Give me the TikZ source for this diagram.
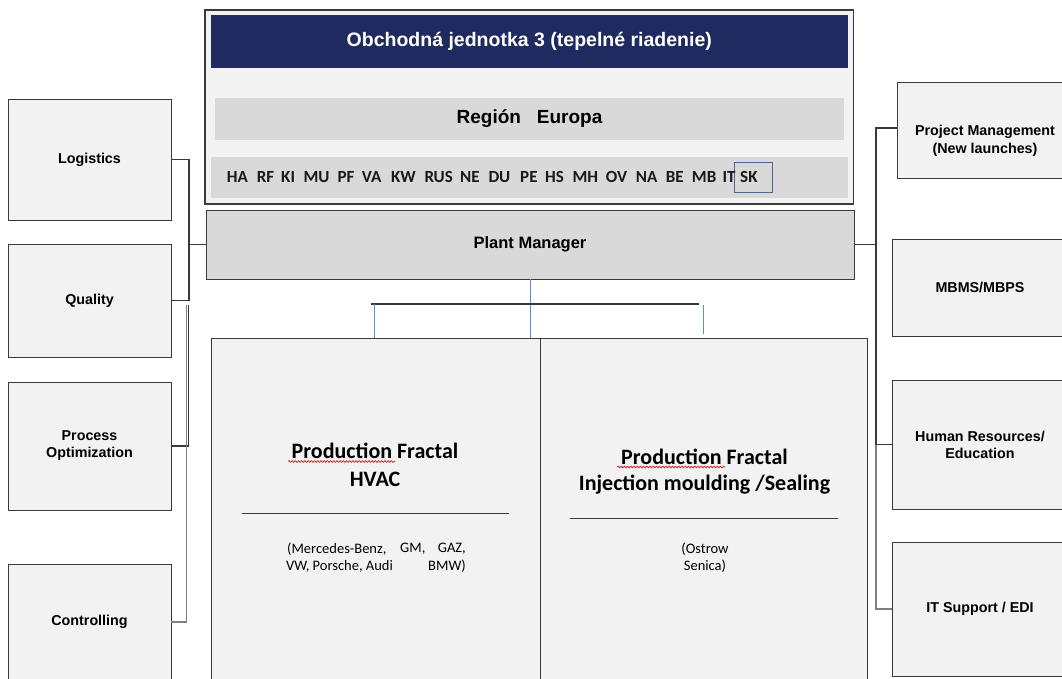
\documentclass[tikz,border=0pt]{standalone}
\usepackage{fontspec}
\setmainfont{Liberation Sans}
\newfontfamily\calib{Carlito}
\usetikzlibrary{decorations.pathmorphing}
\definecolor{boxfill}{HTML}{F2F2F2}
\definecolor{barfill}{HTML}{D9D9D9}
\definecolor{edge}{HTML}{3A3A3A}
\definecolor{navy}{RGB}{31,42,96}
\definecolor{blueln}{RGB}{91,143,209}
\definecolor{skedge}{RGB}{74,104,140}
\definecolor{grayln}{HTML}{7F7F7F}
\tikzset{
  rbox/.style={draw=edge, line width=1pt, inner sep=0pt, outer sep=0pt},
  sidebox/.style={rbox, fill=boxfill, align=center, font=\bfseries\fontsize{14.3}{17}\selectfont},
  conn/.style={draw=edge, line width=1.1pt},
  gconn/.style={draw=grayln, line width=1.1pt},
  bconn/.style={draw=blueln, line width=1pt},
  codetxt/.style={anchor=west, inner sep=0pt, font=\calib\bfseries\fontsize{17}{17}\selectfont, text=black!90},
  titletxt/.style={inner sep=0pt, font=\calib\bfseries\fontsize{22}{26}\selectfont},
  smalltxt/.style={inner sep=0pt, font=\calib\fontsize{14.5}{17}\selectfont},
  wavy/.style={draw=red!85!black, line width=0.6pt, decorate, decoration={snake, amplitude=0.9pt, segment length=3.2pt}},
  uline/.style={draw=edge, line width=0.8pt}
}
\begin{document}
\begin{tikzpicture}[x=1pt,y=-1pt]
\useasboundingbox (0,0) rectangle (1062,678);
\clip (0,0) rectangle (1062,678);
\fill[white] (0,0) rectangle (1062,678);

% top block
\node[rbox, line width=1.3pt, fill=boxfill, minimum width=648.5, minimum height=194] (outer) at (529.25,107) {};
\node[inner sep=0pt, fill=navy, minimum width=637.4, minimum height=53, text=white, font=\bfseries\fontsize{19.5}{22}\selectfont] (hdr) at (529.3,41.5) {Obchodná jednotka 3 (tepelné riadenie)};
\node[inner sep=0pt, fill=barfill, minimum width=629, minimum height=42, font=\bfseries\fontsize{19}{22}\selectfont] (region) at (529.5,119) {Región~~~Europa};
\node[inner sep=0pt, fill=barfill, minimum width=637.4, minimum height=41] (codes) at (529.3,177.5) {};
\node[draw=skedge, line width=1.1pt, inner sep=0pt, minimum width=38, minimum height=30] (skbox) at (753.3,177.5) {};
\foreach \c/\x in {HA/226.7, RF/256.7, KI/281, MU/303.3, PF/337.3, VA/361.7, KW/391, RUS/424.3, NE/460, DU/488.3, PE/520, HS/545, MH/572.3, OV/605.7, NA/635.7, BE/665.7, MB/691.7, IT/722.3, SK/740}
  \node[codetxt] (code\c) at (\x,177.3) {\c};

% plant manager
\node[rbox, fill=barfill, minimum width=648, minimum height=69, font=\bfseries\fontsize{16.5}{19}\selectfont] (plant) at (530,244.5) {Plant Manager};

% production fractals
\node[rbox, fill=boxfill, minimum width=329, minimum height=362] (pfl) at (375.5,519) {};
\node[rbox, fill=boxfill, minimum width=327, minimum height=362] (pfr) at (703.5,519) {};

\node[titletxt] (pfl1) at (375,451) {Production Fractal};
\node[titletxt] (pfl2) at (375,479) {HVAC};
\draw[wavy] (288,461.5) -- (395,461.5);
\draw[uline] (242,513) -- (509,513);
\node[smalltxt, anchor=west] (pflm1) at (287,549) {(Mercedes-Benz,};
\node[smalltxt, anchor=west] (pflm2) at (400,549) {GM,};
\node[smalltxt, anchor=east] (pflm3) at (466,549) {GAZ,};
\node[smalltxt, anchor=west] (pflm4) at (286,566) {VW, Porsche, Audi};
\node[smalltxt, anchor=east] (pflm5) at (466,566) {BMW)};

\node[titletxt] (pfr1) at (704.5,457) {Production Fractal};
\node[titletxt] (pfr2) at (704.5,485) {Injection moulding /Sealing};
\draw[wavy] (617,467) -- (725,467);
\draw[uline] (570,518) -- (838,518);
\node[smalltxt] (pfrm1) at (705,549) {(Ostrow};
\node[smalltxt] (pfrm2) at (705,566) {Senica)};

% left boxes
\node[sidebox, minimum width=163, minimum height=121] (logi) at (89.5,159.5) {Logistics};
\node[sidebox, minimum width=163, minimum height=113] (qual) at (89.5,300.5) {Quality};
\node[sidebox, minimum width=163, minimum height=128] (proc) at (89.5,446) {Process\\Optimization};
\node[sidebox, minimum width=163, minimum height=116] (ctrl) at (89.5,622) {Controlling};

% right boxes
\node[sidebox, minimum width=175, minimum height=96] (proj) at (984.5,130) {};
\node[inner sep=0pt, align=center, font=\bfseries\fontsize{14.3}{18}\selectfont] (projt) at (985,141) {Project Management\\(New launches)};
\node[sidebox, minimum width=176, minimum height=97] (mbms) at (980,287.5) {MBMS/MBPS};
\node[sidebox, minimum width=176, minimum height=129] (hr) at (980,444.5) {Human Resources/\\Education};
\node[sidebox, minimum width=176, minimum height=134] (it) at (980,609) {IT Support / EDI};

% left connectors
\coordinate (lbusA) at (189,0);
\coordinate (lbusB) at (188.3,0);
\coordinate (lbusC) at (186.8,0);
\draw[conn] (logi.east) -| (lbusA |- qual.east) -- (qual.east);
\draw[conn] (plant.west) -- (plant.west -| lbusA);
\draw[conn] ([yshift=-4pt]lbusB |- qual.east) |- (proc.east);
\draw[gconn] ([yshift=-4pt]lbusC |- qual.east) |- (ctrl.east);

% right connectors
\coordinate (rbus) at (876,0);
\draw[conn] (plant.east) -- (plant.east -| rbus);
\draw[conn] ([yshift=2pt]proj.west) -| (rbus |- hr.west) -- (hr.west);
\draw[gconn] (rbus |- hr.west) |- (it.west);

% center connectors
\coordinate (hl) at (371,304);
\coordinate (hr2) at (699,304);
\coordinate (dl) at (374,304);
\coordinate (dr) at (703,305);
\coordinate (drb) at (703,334);
\draw[bconn] (plant.south) -- (plant.south |- pfl.north);
\draw[conn] (hl) -- (hr2);
\draw[bconn] (dl) -- (dl |- pfl.north);
\draw[bconn] (dr) -- (drb);
\end{tikzpicture}
\end{document}
